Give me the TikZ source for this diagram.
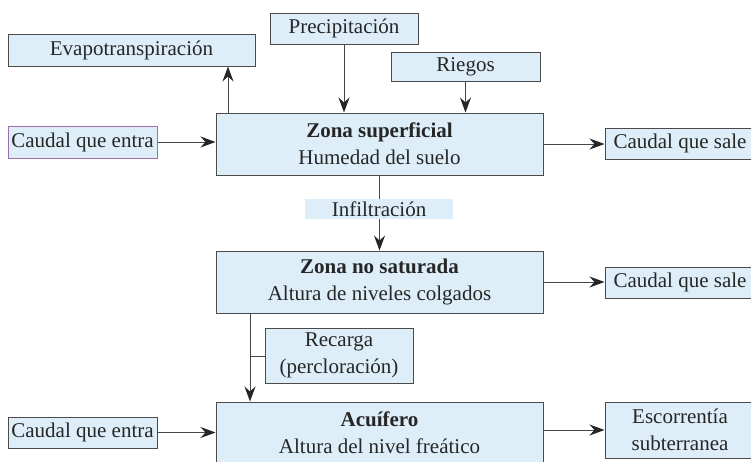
\documentclass[tikz,border=0pt]{standalone}
\usepackage{fontspec}
\setmainfont{Liberation Serif}
\usetikzlibrary{arrows.meta}
\definecolor{boxfill}{RGB}{221,238,248}
\definecolor{boxline}{RGB}{75,75,75}
\definecolor{conline}{RGB}{70,70,70}
\definecolor{purpleline}{RGB}{160,110,175}
\tikzset{
  box/.style={draw=boxline, line width=1pt, fill=boxfill, inner sep=0pt, align=center,
    font=\fontsize{21}{27}\selectfont, text=black!85},
  plainlabel/.style={fill=boxfill, inner sep=0pt, align=center,
    font=\fontsize{21}{27}\selectfont, text=black!85},
  conn/.style={draw=conline, line width=1pt},
  arr/.style={conn, -{Stealth[length=15pt, width=11pt, inset=5pt, fill=black!85, color=black!85]}},
}
\begin{document}
\begin{tikzpicture}[x=1pt, y=-1pt]
\useasboundingbox (0,0) rectangle (751,461);
% boxes
\node[box, minimum width=247pt, minimum height=32pt] (evap) at (131.5,50) {Evapotranspiración};
\node[box, minimum width=148pt, minimum height=31pt] (precip) at (344,28.5) {Precipitación};
\node[box, minimum width=149pt, minimum height=29pt] (riegos) at (465.5,66.5) {Riegos};
\node[box, minimum width=327pt, minimum height=62pt] (zs) at (379.5,144) {\textbf{Zona superficial}\\Humedad del suelo};
\node[box, draw=purpleline, minimum width=149pt, minimum height=32pt] (ce1) at (82.5,142) {Caudal que entra};
\node[box, minimum width=150pt, minimum height=31pt] (cs1) at (680,143.5) {Caudal que sale};
\node[box, minimum width=327pt, minimum height=62pt] (zns) at (379.5,282) {\textbf{Zona no saturada}\\Altura de niveles colgados};
\node[box, minimum width=150pt, minimum height=31pt] (cs2) at (680,282.5) {Caudal que sale};
\node[box, minimum width=148pt, minimum height=55pt] (rec) at (339,355.5) {Recarga\\(percloración)};
\node[box, minimum width=327pt, minimum height=62pt] (acu) at (379.5,433) {\textbf{Acuífero}\\Altura del nivel freático};
\node[box, minimum width=149pt, minimum height=31pt] (ce2) at (82.5,432.5) {Caudal que entra};
\node[box, minimum width=150pt, minimum height=56pt] (esc) at (680,430) {Escorrentía\\subterranea};
% coordinates for connector ends
\coordinate (evfoot) at (228,113);
\coordinate (recfoot) at (250,313);
\coordinate (rectick) at (250,356);
% connectors
\draw[arr] (evfoot) -- (evfoot |- evap.south);
\draw[arr] (precip.south) -- (precip.south |- zs.north);
\draw[arr] (riegos.south) -- (riegos.south |- zs.north);
\draw[arr] (ce1.east) -- (ce1.east -| zs.west);
\draw[arr] (zs.east) -- (zs.east -| cs1.west);
\draw[arr] (zs.south) -- (zns.north);
\node[plainlabel, minimum width=148pt, minimum height=20pt] (infil) at (379,209) {Infiltración};
\draw[arr] (zns.east) -- (zns.east -| cs2.west);
\draw[arr] (recfoot) -- (recfoot |- acu.north);
\draw[conn] (rectick) -- (rectick -| rec.west);
\draw[arr] (ce2.east) -- (ce2.east -| acu.west);
\draw[arr] (acu.east |- esc.west) -- (esc.west);
\end{tikzpicture}
\end{document}
